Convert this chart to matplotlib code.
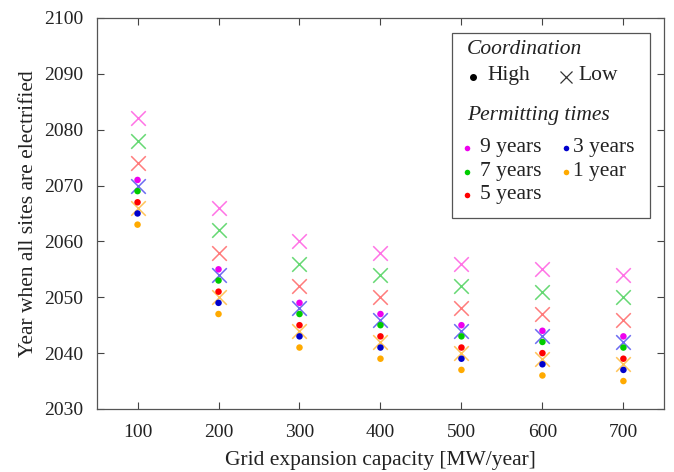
import matplotlib
matplotlib.use('Agg')
import matplotlib.pyplot as plt
from matplotlib.patches import Rectangle

plt.rcParams['font.family'] = ['Liberation Serif', 'DejaVu Serif']

capacity = [100, 200, 300, 400, 500, 600, 700]
permit_labels = ['9 years', '7 years', '5 years', '3 years', '1 year']

# year when all sites are electrified, low coordination
low_9 = [2082, 2066, 2060, 2058, 2056, 2055, 2054]
low_7 = [2078, 2062, 2056, 2054, 2052, 2051, 2050]
low_5 = [2074, 2058, 2052, 2050, 2048, 2047, 2046]
low_3 = [2070, 2054, 2048, 2046, 2044, 2043, 2042]
low_1 = [2066, 2050, 2044, 2042, 2040, 2039, 2038]

# high coordination
high_9 = [2071, 2055, 2049, 2047, 2045, 2044, 2043]
high_7 = [2069, 2053, 2047, 2045, 2043, 2042, 2041]
high_5 = [2067, 2051, 2045, 2043, 2041, 2040, 2039]
high_3 = [2065, 2049, 2043, 2041, 2039, 2038, 2037]
high_1 = [2063, 2047, 2041, 2039, 2037, 2036, 2035]

low = [low_9, low_7, low_5, low_3, low_1]
high = [high_9, high_7, high_5, high_3, high_1]
colors = ['#ee00ee', '#00cc00', '#ff0000', '#0000cc', '#ffaa00']
x_colors = ['#ff44dd', '#33cc44', '#ff5050', '#3a3aee', '#ffb020']

fig = plt.figure(figsize=(6.74, 4.72), dpi=100)
ax = fig.add_axes([0.144, 0.1335, 0.841, 0.8285])

for vals, c in zip(low, x_colors):
    ax.scatter(capacity, vals, marker='x', s=110, color=c, linewidths=1.1, alpha=0.75, zorder=2)
for vals, c in zip(high, colors):
    ax.scatter(capacity, vals, marker='o', s=22, color=c, edgecolors='none', zorder=3)

ax.set_xlim(50, 750)
ax.set_ylim(2030, 2100)
ax.set_xticks(capacity)
ax.set_yticks(range(2030, 2101, 10))
ax.tick_params(direction='in', top=True, right=True, length=5, width=0.8,
               colors='#444444', labelcolor='#222222', labelsize=14)
ax.tick_params(axis='x', pad=11)
ax.tick_params(axis='y', pad=10)
for s in ax.spines.values():
    s.set_color('#555555')
    s.set_linewidth(0.9)
ax.set_xlabel('Grid expansion capacity [MW/year]', fontsize=15.5, color='#222222', labelpad=7)
ax.set_ylabel('Year when all sites are electrified', fontsize=15.5, color='#222222', labelpad=4)

# hand-built legend box
tr = ax.transAxes
def ax_xy(px, py):
    return ((px - 97) / 567.0, (409 - py) / 391.0)

x0, y1 = ax_xy(452, 33)
x1, y0 = ax_xy(650, 218)
ax.add_patch(Rectangle((x0, y0), x1 - x0, y1 - y0, transform=tr, facecolor='white',
                       edgecolor='#555555', linewidth=0.9, zorder=5))
fs = 15.5
def txt(px, py, s, **kw):
    ax.text(*ax_xy(px, py), s, transform=tr, fontsize=fs, va='center', ha='left',
            color='#222222', zorder=6, **kw)
def mk(px, py, **kw):
    ax.plot(*ax_xy(px, py), transform=tr, linestyle='none', zorder=6, clip_on=False, **kw)

txt(467, 50, 'Coordination', style='italic')
mk(473, 77, marker='o', markersize=4, color='black')
txt(487, 76, 'High')
mk(566, 77, marker='x', markersize=9, color='#333333', markeredgewidth=0.9)
txt(579, 76, 'Low')
txt(467, 116, 'Permitting times', style='italic')
rows = [(467, 480, 148), (467, 480, 172), (467, 480, 195), (566, 573, 148), (566, 573, 172)]
for (mx, tx, py), c, lab in zip(rows, colors, permit_labels):
    mk(mx, py, marker='o', markersize=4, color=c, markeredgewidth=0)
    txt(tx, py, lab)

fig.savefig('out.png', dpi=100)
